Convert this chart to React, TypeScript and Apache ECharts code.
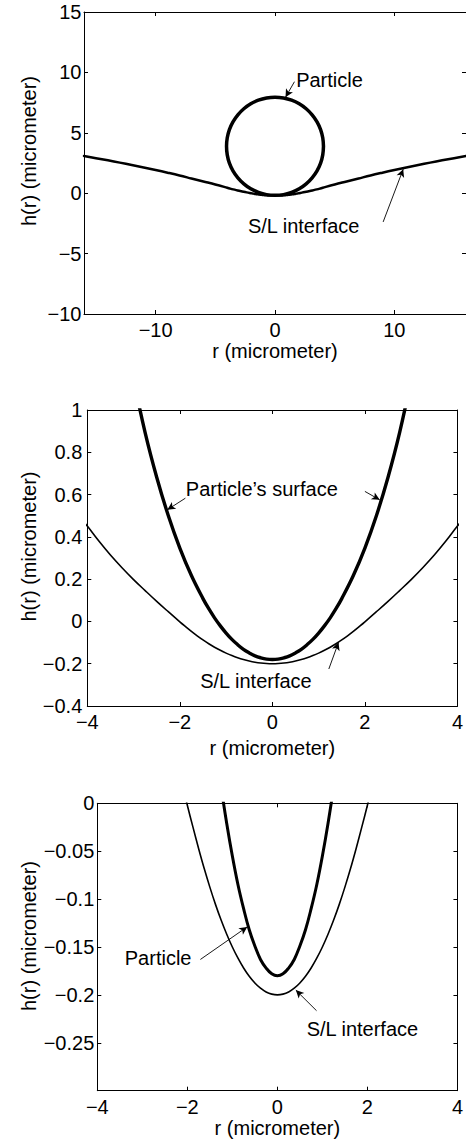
import React, { useEffect, useRef } from "react";
import * as echarts from "echarts";

const FONT = '"Liberation Sans", Arial, Helvetica, sans-serif';

// Panel 1: particle outline (circle): [r, h]
const particleCircle: number[][] = [
  [4.06, 3.88], [4.0, 4.59], [3.82, 5.27], [3.52, 5.91], [3.11, 6.49], [2.61, 6.99],
  [2.03, 7.4], [1.39, 7.7], [0.71, 7.88], [0, 7.94], [-0.71, 7.88], [-1.39, 7.7],
  [-2.03, 7.4], [-2.61, 6.99], [-3.11, 6.49], [-3.52, 5.91], [-3.82, 5.27], [-4.0, 4.59],
  [-4.06, 3.88], [-4.0, 3.17], [-3.82, 2.49], [-3.52, 1.85], [-3.11, 1.27], [-2.61, 0.77],
  [-2.03, 0.36], [-1.39, 0.07], [-0.71, -0.12], [0, -0.18], [0.71, -0.12], [1.39, 0.07],
  [2.03, 0.36], [2.61, 0.77], [3.11, 1.27], [3.52, 1.85], [3.82, 2.49], [4.0, 3.17],
  [4.06, 3.88],
];

// Particle's lower surface near contact (panels 2 and 3): [r, h]
const particleSurface: number[][] = [
  [-3.0, 1.145], [-2.75, 0.893], [-2.5, 0.682], [-2.25, 0.501], [-2.0, 0.347], [-1.75, 0.217],
  [-1.5, 0.108], [-1.375, 0.06], [-1.25, 0.017], [-1.125, -0.021], [-1.0, -0.055],
  [-0.875, -0.085], [-0.75, -0.11], [-0.625, -0.132], [-0.5, -0.149], [-0.375, -0.163],
  [-0.25, -0.172], [-0.125, -0.178], [0, -0.18],
  [0.125, -0.178], [0.25, -0.172], [0.375, -0.163], [0.5, -0.149], [0.625, -0.132],
  [0.75, -0.11], [0.875, -0.085], [1.0, -0.055], [1.125, -0.021], [1.25, 0.017],
  [1.375, 0.06], [1.5, 0.108],
  [1.75, 0.217], [2.0, 0.347], [2.25, 0.501], [2.5, 0.682], [2.75, 0.893], [3.0, 1.145],
];

// Solid/liquid interface profile: [r, h]
const slInterface: number[][] = [
  [-16, 3.08], [-15, 2.9], [-14, 2.72], [-13, 2.53], [-12, 2.33], [-11, 2.13], [-10, 1.92],
  [-9, 1.7], [-8, 1.47], [-7, 1.22], [-6, 0.97], [-5, 0.72], [-4, 0.451], [-3.75, 0.38],
  [-3.5, 0.314], [-3.25, 0.254], [-3, 0.198], [-2.75, 0.146], [-2.5, 0.095], [-2.25, 0.046],
  [-2, -0.002], [-1.875, -0.0249], [-1.75, -0.0471], [-1.625, -0.0681], [-1.5, -0.0875],
  [-1.375, -0.1055], [-1.25, -0.1219], [-1.125, -0.1367], [-1.0, -0.15], [-0.875, -0.1617],
  [-0.75, -0.1719], [-0.625, -0.1805], [-0.5, -0.1875], [-0.375, -0.193], [-0.25, -0.1969],
  [-0.125, -0.1992], [0, -0.2],
  [0.125, -0.1992], [0.25, -0.1969], [0.375, -0.193], [0.5, -0.1875], [0.625, -0.1805],
  [0.75, -0.1719], [0.875, -0.1617], [1.0, -0.15], [1.125, -0.1367], [1.25, -0.1219],
  [1.375, -0.1055], [1.5, -0.0875], [1.625, -0.0681], [1.75, -0.0471], [1.875, -0.0249],
  [2, -0.002], [2.25, 0.046], [2.5, 0.095], [2.75, 0.146], [3, 0.198], [3.25, 0.254],
  [3.5, 0.314], [3.75, 0.38], [4, 0.451], [5, 0.72],
  [6, 0.97], [7, 1.22], [8, 1.47], [9, 1.7], [10, 1.92], [11, 2.13], [12, 2.33], [13, 2.53],
  [14, 2.72], [15, 2.9], [16, 3.08],
];

// Tick values
const p1XTicks = [-10, 0, 10];

// Annotations (data coordinates)
const p1Texts = [
  { text: "Particle", at: [1.77, 9.37] },
  { text: "S/L interface", at: [-2.27, -2.74] },
];
const p1Arrows = [
  [[1.63, 9.23], [0.88, 7.94]],
  [[9.06, -2.38], [10.74, 1.99]],
];
const p2Texts = [
  { text: "Particle\u2019s surface", at: [-1.87, 0.627] },
  { text: "S/L interface", at: [-1.56, -0.28] },
];
const p2Arrows = [
  [[-1.88, 0.583], [-2.27, 0.528]],
  [[2.0, 0.615], [2.32, 0.575]],
  [[1.22, -0.225], [1.43, -0.099]],
];
const p3Texts = [
  { text: "Particle", at: [-3.39, -0.161] },
  { text: "S/L interface", at: [0.65, -0.236] },
];
const p3Arrows = [
  [[-1.71, -0.163], [-0.67, -0.129]],
  [[0.87, -0.2165], [0.41, -0.195]],
];

const fmt = (v: number) => {
  const n = parseFloat(Number(v).toFixed(3));
  return String(n).replace("-", "\u2212");
};

const labelStyle = { color: "#000", fontSize: 20, fontFamily: FONT };
const lineAxis = { show: true, onZero: false, lineStyle: { color: "#000", width: 1 } };
const tickIn = { show: true, inside: true, length: 4, lineStyle: { color: "#000", width: 1 } };

function panelAxes(
  gi: number,
  x: { min: number; max: number; interval?: number; custom?: number[]; nameGap: number },
  y: { min: number; max: number; interval: number; margin: number; hide?: number[] }
) {
  const xBase: any = {
    type: "value",
    gridIndex: gi,
    min: x.min,
    max: x.max,
    splitLine: { show: false },
    axisLine: lineAxis,
  };
  if (x.interval) xBase.interval = x.interval;
  const xTick: any = { ...tickIn };
  if (x.custom) xTick.customValues = x.custom;
  const xBottom = {
    ...xBase,
    position: "bottom",
    axisTick: xTick,
    axisLabel: {
      ...labelStyle,
      margin: 6,
      formatter: fmt,
      ...(x.custom ? { customValues: x.custom } : {}),
    },
    name: "r (micrometer)",
    nameLocation: "middle",
    nameGap: x.nameGap,
    nameTextStyle: labelStyle,
  };
  const xTop = { ...xBase, position: "top", axisTick: xTick, axisLabel: { show: false } };
  const yBase: any = {
    type: "value",
    gridIndex: gi,
    min: y.min,
    max: y.max,
    interval: y.interval,
    splitLine: { show: false },
    axisLine: lineAxis,
    axisTick: tickIn,
  };
  const hide = y.hide || [];
  const yLeft = {
    ...yBase,
    position: "left",
    axisLabel: {
      ...labelStyle,
      margin: y.margin,
      formatter: (v: number) =>
        hide.some((h) => Math.abs(h - v) < 1e-9) ? "" : fmt(v),
    },
  };
  const yRight = { ...yBase, position: "right", axisLabel: { show: false } };
  return { xs: [xBottom, xTop], ys: [yLeft, yRight] };
}

function marks(texts: { text: string; at: number[] }[], arrows: number[][][]) {
  return {
    markPoint: {
      silent: true,
      symbol: "circle",
      symbolSize: 0,
      itemStyle: { color: "transparent" },
      label: {
        show: true,
        position: "right",
        distance: 0,
        formatter: "{b}",
        ...labelStyle,
      },
      data: texts.map((t) => ({ name: t.text, coord: t.at, value: 0 })),
    },
    markLine: {
      silent: true,
      symbol: ["none", "arrow"],
      symbolSize: [6, 8],
      label: { show: false },
      lineStyle: { color: "#000", width: 0.9, type: "solid" },
      data: arrows.map((a) => [{ coord: a[0] }, { coord: a[1] }]),
    },
  };
}

export default function App() {
  const ref = useRef<HTMLDivElement>(null);
  useEffect(() => {
    if (!ref.current) return;
    const chart = echarts.init(ref.current, undefined, { renderer: "svg" });

    const a1 = panelAxes(0, { min: -16, max: 16, custom: p1XTicks, nameGap: 25.5 }, { min: -10, max: 15, interval: 5, margin: 2.5 });
    const a2 = panelAxes(1, { min: -4, max: 4, interval: 2, nameGap: 32 }, { min: -0.4, max: 1, interval: 0.2, margin: 5 });
    const a3 = panelAxes(2, { min: -4, max: 4, interval: 2, nameGap: 27.5 }, { min: -0.3, max: 0, interval: 0.05, margin: 3, hide: [-0.3] });

    const xAxis = [...a1.xs, ...a2.xs, ...a3.xs];
    const yAxis = [...a1.ys, ...a2.ys, ...a3.ys];

    const lineSeries = (name: string, data: number[][], xi: number, width: number, extra: any = {}) => ({
      type: "line",
      name,
      data,
      xAxisIndex: xi,
      yAxisIndex: xi,
      showSymbol: false,
      symbol: "none",
      smooth: 0.4,
      clip: true,
      lineStyle: { color: "#000", width, join: "round", cap: "round" },
      itemStyle: { color: "#000" },
      silent: true,
      ...extra,
    });

    const ytitle = (y: number) => ({
      type: "text",
      x: 29,
      y,
      rotation: Math.PI / 2,
      silent: true,
      style: {
        text: "h(r) (micrometer)",
        fill: "#000",
        font: `20px ${FONT}`,
        textAlign: "center",
        textVerticalAlign: "middle",
      },
    });

    chart.setOption({
      animation: false,
      backgroundColor: "#fff",
      grid: [
        { left: 84, top: 12, width: 383, height: 302 },
        { left: 87.3, top: 410, width: 374.4, height: 296 },
        { left: 97.3, top: 803.3, width: 364.4, height: 287.4 },
      ],
      xAxis,
      yAxis,
      graphic: [ytitle(151), ytitle(546.5), ytitle(936)],
      series: [
        lineSeries("Particle", particleCircle, 0, 3.5),
        lineSeries("S/L interface", slInterface, 0, 2.5, marks(p1Texts, p1Arrows)),
        lineSeries("Particle's surface", particleSurface, 2, 3.4),
        lineSeries("S/L interface", slInterface, 2, 1.6, marks(p2Texts, p2Arrows)),
        lineSeries("Particle", particleSurface, 4, 3),
        lineSeries("S/L interface", slInterface, 4, 1.6, marks(p3Texts, p3Arrows)),
      ],
    });
    return () => chart.dispose();
  }, []);
  return (
    <div
      ref={ref}
      style={{ position: "absolute", left: 0, top: 0, width: 466, height: 1140, background: "#fff" }}
    />
  );
}
